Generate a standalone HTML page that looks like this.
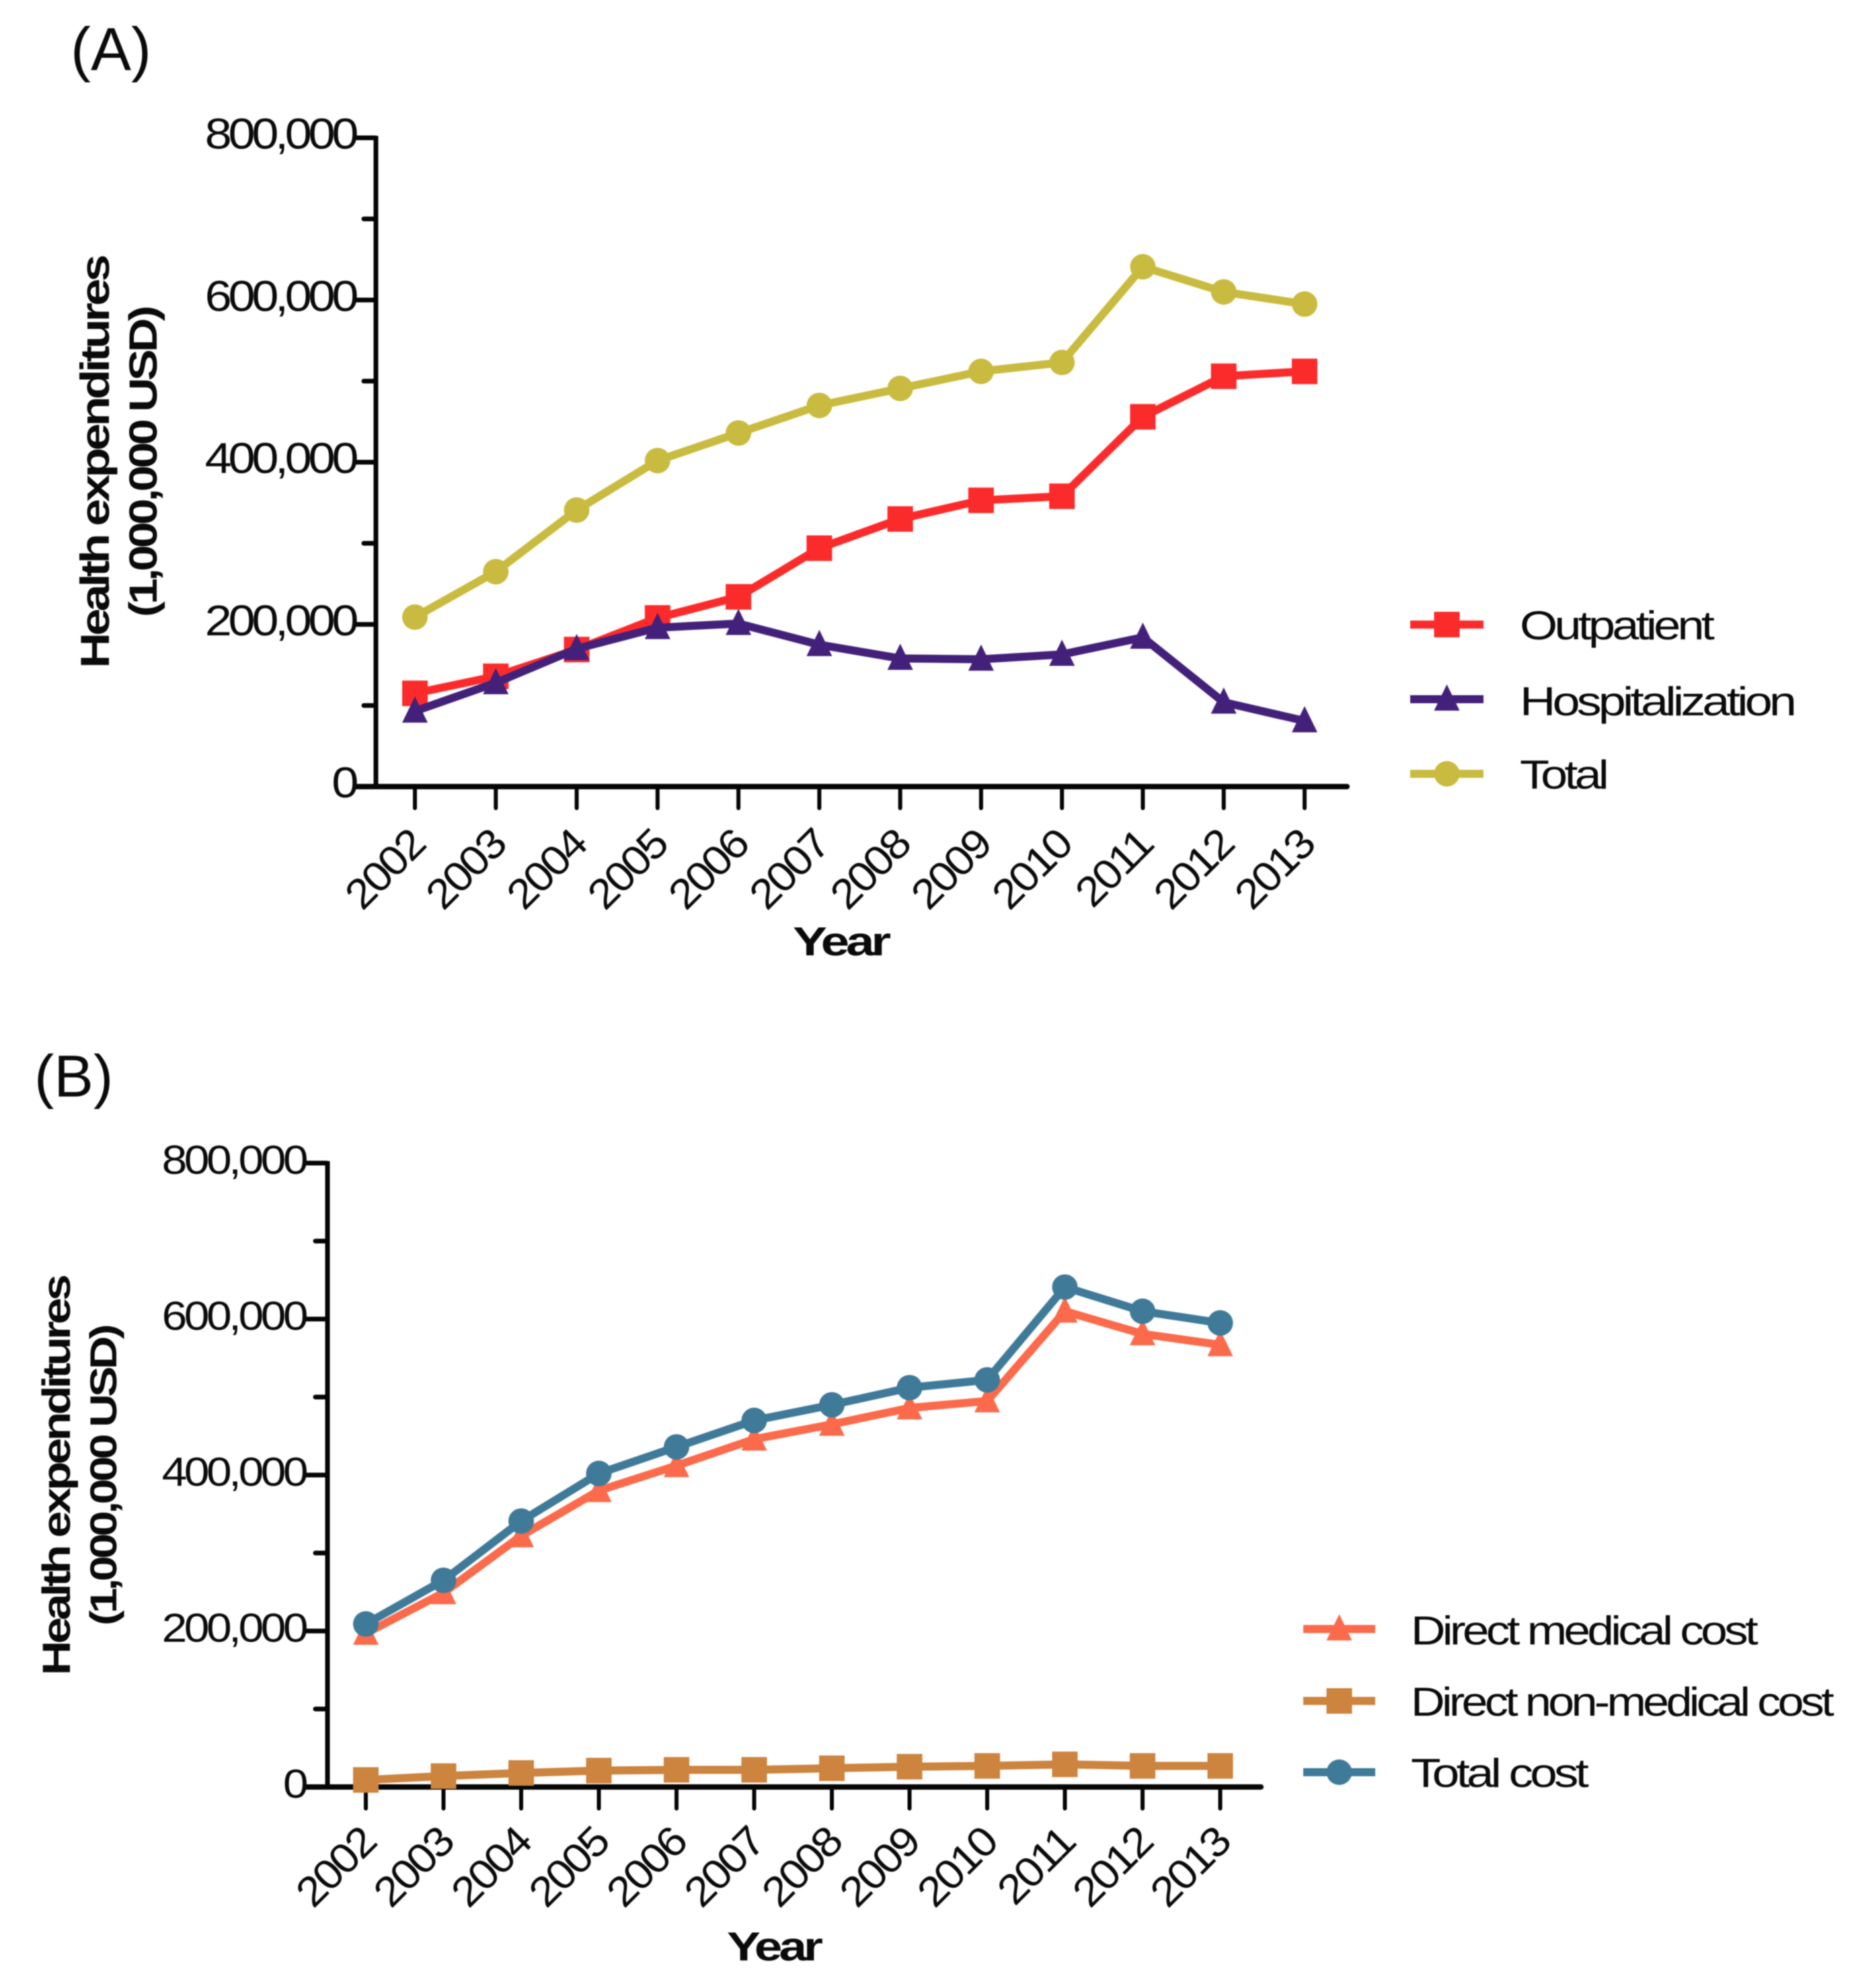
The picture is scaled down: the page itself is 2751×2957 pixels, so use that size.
<!DOCTYPE html>
<html lang="en">
<head>
<meta charset="utf-8">
<title>Health expenditures 2002–2013</title>
<style>
html,body{margin:0;padding:0;background:#fff;}
svg{display:block;filter:blur(0.8px);}
text{font-family:"Liberation Sans",Arial,sans-serif;fill:#0a0a0a;}
.bold{font-weight:700;}
</style>
</head>
<body>
<svg id="chart" xmlns="http://www.w3.org/2000/svg" width="2751" height="2957" viewBox="0 0 2751 2957">
  <rect x="0" y="0" width="2751" height="2957" fill="#ffffff"/>

  <text x="105" y="104" font-size="90">(A)</text>
  <text x="51" y="1631" font-size="88">(B)</text>

  <text class="bold" transform="translate(162,994) rotate(-90)" font-size="60" letter-spacing="-4" textLength="611" lengthAdjust="spacingAndGlyphs">Health expenditures</text>
  <text class="bold" transform="translate(233,918) rotate(-90)" font-size="58" letter-spacing="-4" textLength="459" lengthAdjust="spacingAndGlyphs">(1,000,000 USD)</text>
  <text class="bold" x="1179" y="1421" font-size="60" letter-spacing="-4" textLength="141" lengthAdjust="spacingAndGlyphs">Year</text>

  <text class="bold" transform="translate(104,2492) rotate(-90)" font-size="58" letter-spacing="-4" textLength="592" lengthAdjust="spacingAndGlyphs">Health expenditures</text>
  <text class="bold" transform="translate(173,2418) rotate(-90)" font-size="56" letter-spacing="-4" textLength="444" lengthAdjust="spacingAndGlyphs">(1,000,000 USD)</text>
  <text class="bold" x="1081" y="2916" font-size="60" letter-spacing="-4" textLength="138" lengthAdjust="spacingAndGlyphs">Year</text>

  <text x="2260" y="951" font-size="60" letter-spacing="-4" textLength="285" lengthAdjust="spacingAndGlyphs">Outpatient</text>
  <text x="2260" y="1064" font-size="60" letter-spacing="-4" textLength="407" lengthAdjust="spacingAndGlyphs">Hospitalization</text>
  <text x="2260" y="1173" font-size="60" letter-spacing="-4" textLength="128" lengthAdjust="spacingAndGlyphs">Total</text>

  <text x="2098" y="2446" font-size="60" letter-spacing="-4" textLength="512" lengthAdjust="spacingAndGlyphs">Direct medical cost</text>
  <text x="2098" y="2552" font-size="60" letter-spacing="-4" textLength="625" lengthAdjust="spacingAndGlyphs">Direct non-medical cost</text>
  <text x="2098" y="2658" font-size="60" letter-spacing="-4" textLength="260" lengthAdjust="spacingAndGlyphs">Total cost</text>
</svg>

<script>
const years = ['2002','2003','2004','2005','2006','2007','2008','2009','2010','2011','2012','2013'];
const yMajorTicks = [0, 200000, 400000, 600000, 800000];
const yMajorLabels = ['0', '200,000', '400,000', '600,000', '800,000'];
const yMinorTicks = [100000, 300000, 500000, 700000];

const outpatient = [115000, 136000, 169000, 208000, 234000, 294000, 330000, 353000, 358000, 456000, 506000, 512000];
const hospitalization = [93000, 128000, 170000, 196000, 201000, 175000, 158000, 157000, 163000, 184000, 104000, 81000];
const total = [209000, 265000, 341000, 402000, 436000, 470000, 491000, 512000, 523000, 641000, 610000, 595000];

const directMedical = [197000, 249000, 322000, 380000, 412000, 446000, 465000, 486000, 495000, 610000, 581000, 567000];
const directNonMedical = [9000, 14000, 18000, 21000, 22000, 22000, 24000, 26000, 27000, 29000, 27000, 27000];
const totalCost = [209000, 265000, 341000, 402000, 436000, 470000, 490000, 512000, 522000, 641000, 610000, 595000];

const svg = document.getElementById('chart');
const NS = 'http://www.w3.org/2000/svg';

function make(tag, attrs, parent) {
  const el = document.createElementNS(NS, tag);
  for (const k in attrs) el.setAttribute(k, attrs[k]);
  parent.appendChild(el);
  return el;
}

function group(name, parent) {
  const g = make('g', {}, parent);
  
  
  return g;
}

function drawMarker(kind, x, y, r, color, parent, name) {
  let el;
  if (kind === 'square') {
    el = make('rect', { x: x - r, y: y - r, width: 2 * r, height: 2 * r, fill: color }, parent);
  } else if (kind === 'triangle') {
    el = make('polygon', { points: (x - r) + ',' + (y + r - 2) + ' ' + (x + r) + ',' + (y + r - 2) + ' ' + x + ',' + (y - r - 3), fill: color }, parent);
  } else {
    el = make('circle', { cx: x, cy: y, r: r, fill: color }, parent);
  }
  
  
}

function drawPanel(p) {
  const root = group(p.id + '-chart', svg);
  const xScale = i => p.x0 + i * p.xStep;
  const yScale = v => p.yBase - v * p.yPerUnit;
  const ink = '#050505';

  const axes = group(p.id + '-axes', root);
  const yAxis = make('line', { x1: p.axisX, x2: p.axisX, y1: yScale(800000) - 3, y2: p.yBase + 4, stroke: ink, 'stroke-width': 7 }, axes);
  
  
  const xAxis = make('line', { x1: p.tickLeft, x2: p.axisEnd, y1: p.yBase, y2: p.yBase, stroke: ink, 'stroke-width': 8, 'stroke-linecap': 'round' }, axes);
  
  

  yMajorTicks.forEach((v, i) => {
    const y = yScale(v);
    if (v !== 0) {
      const t = make('line', { x1: p.tickLeft, x2: p.axisX, y1: y, y2: y, stroke: ink, 'stroke-width': 7 }, axes);
      
      
    }
    const lab = make('text', {
      transform: 'translate(' + (p.tickLeft - 1) + ',' + (y + p.labelDy) + ') scale(1.13,1)',
      'text-anchor': 'end', 'font-size': p.tickFont, 'letter-spacing': p.tickSpacing
    }, axes);
    lab.textContent = yMajorLabels[i];
    
    
  });

  yMinorTicks.forEach(v => {
    const y = yScale(v);
    const t = make('line', { x1: p.tickMinorLeft, x2: p.axisX, y1: y, y2: y, stroke: ink, 'stroke-width': 7, 'stroke-linecap': 'round' }, axes);
    
    
  });

  years.forEach((yr, i) => {
    const x = xScale(i);
    const t = make('line', { x1: x, x2: x, y1: p.yBase, y2: p.yBase + p.xTickLen, stroke: ink, 'stroke-width': 6, 'stroke-linecap': 'round' }, axes);
    
    
    const lab = make('text', {
      transform: 'translate(' + (x + 18) + ',' + (p.yBase + p.yearDy) + ') rotate(-45) scale(1.08,1)',
      'text-anchor': 'end', 'font-size': 62, 'letter-spacing': -3
    }, axes);
    lab.textContent = yr;
    
    
  });

  p.series.forEach(s => {
    const g = group('series-' + s.name, root);
    const line = make('polyline', {
      points: s.values.map((v, i) => xScale(i) + ',' + yScale(v)).join(' '),
      fill: 'none', stroke: s.color, 'stroke-width': p.lineWidth, 'stroke-linejoin': 'round'
    }, g);
    
    
    s.values.forEach((v, i) => {
      drawMarker(s.marker, xScale(i), yScale(v), p.markerR, s.color, g, s.name + '-point-' + years[i]);
    });
  });

  const legend = group(p.id + '-legend', root);
  p.series.forEach((s, i) => {
    const entry = group('legend-entry-' + s.name, legend);
    const y = p.legendY[i];
    const sample = make('line', { x1: p.legendX1, x2: p.legendX2, y1: y, y2: y, stroke: s.color, 'stroke-width': p.lineWidth }, entry);
    
    
    drawMarker(s.marker, (p.legendX1 + p.legendX2) / 2, y, p.markerR, s.color, entry, 'legend-marker-' + s.name);
  });
}

drawPanel({
  id: 'panel-a', x0: 617, xStep: 120.27, yBase: 1170, yPerUnit: 965 / 800000,
  axisX: 559, axisEnd: 2003, tickLeft: 529, tickMinorLeft: 541, xTickLen: 32,
  labelDy: 16, tickFont: 64, tickSpacing: -4.8, yearDy: 90,
  lineWidth: 12, markerR: 19,
  legendX1: 2097, legendX2: 2206, legendY: [929, 1040, 1151],
  series: [
    { name: 'outpatient', values: outpatient, color: '#fc2b2b', marker: 'square' },
    { name: 'hospitalization', values: hospitalization, color: '#43217a', marker: 'triangle' },
    { name: 'total', values: total, color: '#c9bb40', marker: 'circle' }
  ]
});

drawPanel({
  id: 'panel-b', x0: 544, xStep: 115.5, yBase: 2658, yPerUnit: 928 / 800000,
  axisX: 487, axisEnd: 1875, tickLeft: 455, tickMinorLeft: 469, xTickLen: 32,
  labelDy: 16, tickFont: 60, tickSpacing: -4, yearDy: 86,
  lineWidth: 12, markerR: 19,
  legendX1: 1938, legendX2: 2045, legendY: [2423, 2530, 2636],
  series: [
    { name: 'direct-medical-cost', values: directMedical, color: '#fb6a4a', marker: 'triangle' },
    { name: 'direct-non-medical-cost', values: directNonMedical, color: '#cc843f', marker: 'square' },
    { name: 'total-cost', values: totalCost, color: '#3f7a99', marker: 'circle' }
  ]
});
</script>
</body>
</html>
